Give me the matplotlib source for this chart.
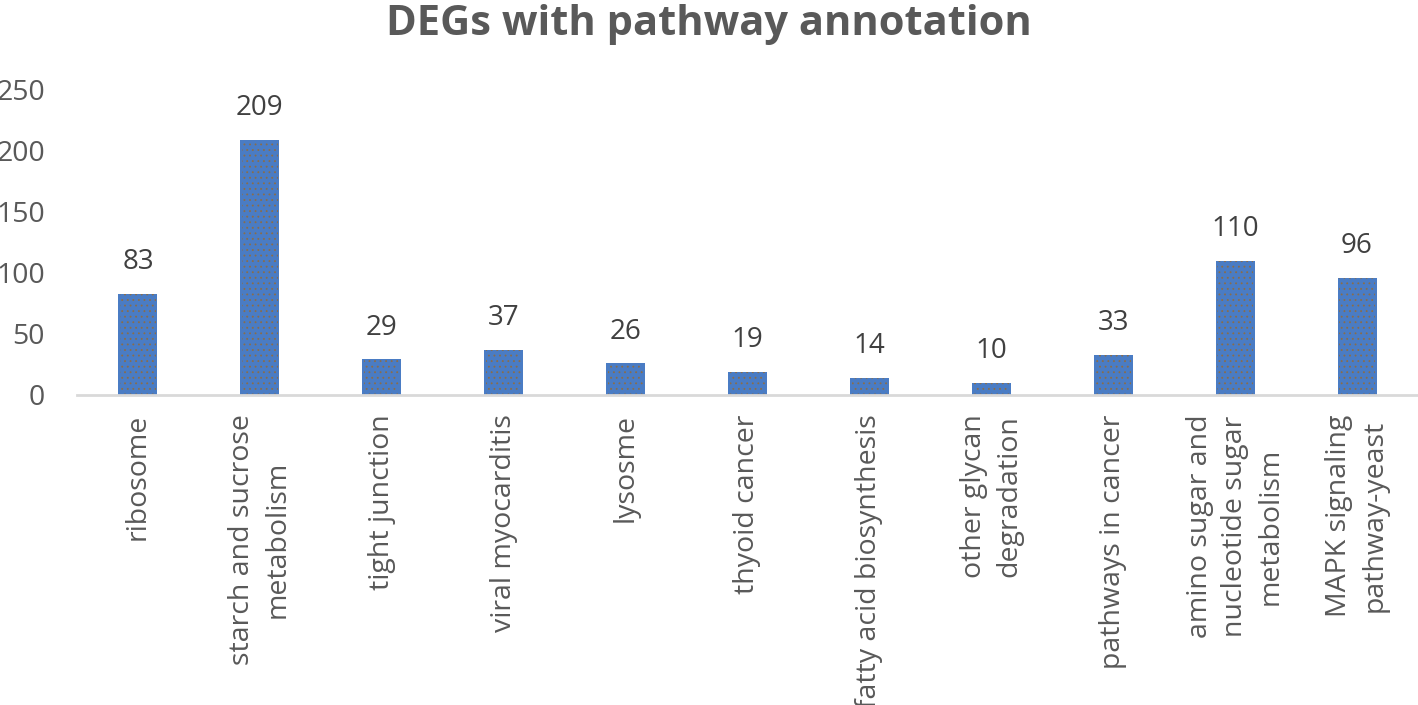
import matplotlib
matplotlib.use("Agg")
import matplotlib.pyplot as plt

plt.rcParams['font.family'] = ['Open Sans', 'DejaVu Sans']
plt.rcParams['hatch.linewidth'] = 0.6

# pathway categories and DEG counts
pathways = ["ribosome", "starch and sucrose\nmetabolism", "tight junction",
            "viral myocarditis", "lysosme", "thyoid cancer",
            "fatty acid biosynthesis", "other glycan\ndegradation",
            "pathways in cancer", "amino sugar and\nnucleotide sugar\nmetabolism",
            "MAPK signaling\npathway-yeast"]
counts = [83, 209, 29, 37, 26, 19, 14, 10, 33, 110, 96]
yticks = [0, 50, 100, 150, 200, 250]

fig = plt.figure(figsize=(14.18, 7.05), dpi=100)
ax = fig.add_axes([0.0543, 0.44, 0.9457, 0.4326])

x = range(len(pathways))
ax.bar(x, counts, width=0.32, color='#4A7CC4', edgecolor='#4A7CC4', linewidth=0)
ax.bar(x, counts, width=0.29, color='none', edgecolor='#8a6d4a', linewidth=0, hatch='...')

for i, v in enumerate(counts):
    ax.text(i, v + 20, str(v), ha='center', va='baseline', fontsize=20, color='#404040')

ax.set_xlim(-0.5, len(pathways) - 0.5)
ax.set_ylim(0, 250)
ax.set_yticks(yticks)
ax.set_xticks(list(x))
ax.set_xticklabels(pathways, rotation=90, ha='center', va='top',
                   multialignment='center', linespacing=1.35)
ax.tick_params(axis='both', length=0, labelsize=20.5, colors='#595959')
ax.tick_params(axis='x', pad=14)
ax.tick_params(axis='y', pad=23)

for s in ['top', 'right', 'left']:
    ax.spines[s].set_visible(False)
ax.spines['bottom'].set_color('#D9D9D9')
ax.spines['bottom'].set_linewidth(2)

fig.suptitle("DEGs with pathway annotation", x=0.5, y=0.995, va='top',
             fontsize=30, fontweight='bold', color='#595959')

fig.savefig("out.png", dpi=100)
